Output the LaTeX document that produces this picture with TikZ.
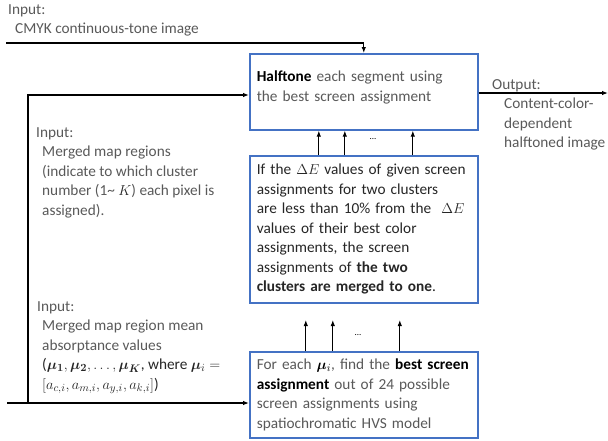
\documentclass[tikz,border=0pt]{standalone}
\usepackage{fontspec}
\setmainfont{Carlito}
\usepackage{amsmath}
\usepackage{bm}
\usetikzlibrary{arrows.meta}
\definecolor{boxblue}{HTML}{4472C4}
\definecolor{txtgrey}{HTML}{595959}
\definecolor{txtdark}{HTML}{262626}
\tikzset{
  procbox/.style={draw=boxblue, line width=1.6pt, fill=white, text width=214pt,
    inner xsep=7pt, inner ysep=0pt, align=left, anchor=north west,
    minimum width=228pt, font=\fontsize{15.3}{19.5}\selectfont},
  intext/.style={text=txtgrey, align=left, anchor=north west, inner sep=0pt,
    font=\fontsize{15.3}{19.5}\selectfont},
  flow/.style={-{Latex[length=6pt,width=4.5pt]}, line width=1.1pt},
  dots/.style={font=\fontsize{9}{9}\selectfont},
}
\begin{document}
\begin{tikzpicture}[x=1pt,y=-1pt]
\useasboundingbox (0,0) rectangle (608,440);

% process boxes
\node[procbox, minimum height=76pt, text=txtgrey] (halftone) at (249,53)
  {\textcolor{black}{\textbf{Halftone}} each segment using\\
   the best screen assignment\\[-8pt]\mbox{}};
\node[procbox, minimum height=147pt, text=txtdark] (merge) at (249,155)
  {If the $\Delta E$ values of given screen\\
   assignments for two clusters\\
   are less than 10\% from the \ $\Delta E$\\
   values of their best color\\
   assignments, the screen\\
   assignments of \textbf{the two}\\
   \textbf{clusters are merged to one}.};
\node[procbox, minimum height=86pt, text=txtgrey] (best) at (249,351)
  {\mbox{For each \textcolor{black}{$\bm{\mu}_i$}, find the \textcolor{black}{\textbf{best screen}}}\\
   \textcolor{black}{\textbf{assignment}} out of 24 possible\\
   screen assignments using\\
   spatiochromatic HVS model};

% inputs and output
\node[intext] (incmyk) at (8,4)
  {Input:\\\hspace*{7pt}CMYK continuous-tone image};
\node[intext] (inmap) at (36,127)
  {Input:\\
   \hspace*{6pt}Merged map regions\\
   \hspace*{6pt}(indicate to which cluster\\
   \hspace*{6pt}number (1\textasciitilde{} \textcolor{txtdark}{$K$}) each pixel is\\
   \hspace*{6pt}assigned).};
\node[intext] (inmean) at (37,301)
  {Input:\\
   \hspace*{5pt}Merged map region mean\\
   \hspace*{5pt}absorptance values\\
   \hspace*{5pt}\textcolor{txtdark}{($\bm{\mu_1}, \bm{\mu_2}, \dots, \bm{\mu_K}$, where $\bm{\mu}_i =$}\\
   \hspace*{5pt}\textcolor{txtdark}{$[a_{c,i}, a_{m,i}, a_{y,i}, a_{k,i}]$)}};
\node[intext] (outimg) at (492,79)
  {Output:\\
   \hspace*{12pt}Content-color-\\
   \hspace*{12pt}dependent\\
   \hspace*{12pt}halftoned image};

% connectors
\coordinate (cmykin) at (6,43);
\coordinate (mapin) at (28,95);
\coordinate (meanin) at (7,403);
\coordinate (join) at (28,403);
\coordinate (outend) at (608,93);
\draw[flow] (cmykin) -| (halftone.north);
\draw[flow] (join) -- (mapin) -- (mapin -| halftone.west);
\draw[flow] (meanin) -- (meanin -| best.west);
\draw[flow] (outend -| halftone.east) -- (outend);

\foreach \dx in {-45,-19,49}
  \draw[flow] ([xshift=\dx pt]merge.north) -- ([xshift=\dx pt]halftone.south);
\node[dots] (dotsa) at (373,139) {...};

\foreach \dx in {-58,-31,36}
  \draw[flow] ([xshift=\dx pt]best.north) -- ([xshift=\dx pt, yshift=31pt]best.north);
\node[dots] (dotsb) at (358,335) {...};
\end{tikzpicture}
\end{document}
